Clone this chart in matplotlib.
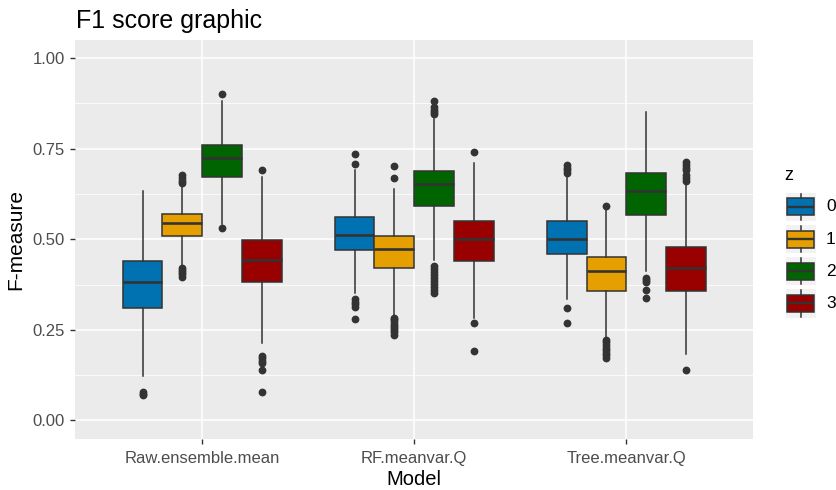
import matplotlib
matplotlib.use("Agg")
import matplotlib.pyplot as plt
from matplotlib.patches import Rectangle

plt.rcParams['font.family'] = ['Liberation Sans', 'DejaVu Sans']

models = ["Raw.ensemble.mean", "RF.meanvar.Q", "Tree.meanvar.Q"]
z_levels = ["0", "1", "2", "3"]
z_colors = ["#0072B2", "#E69F00", "#006400", "#990000"]

# box statistics, one row per model, one column per z level
q1 = [[0.311, 0.510, 0.671, 0.381],
      [0.471, 0.420, 0.593, 0.441],
      [0.459, 0.357, 0.568, 0.357]]
med = [[0.383, 0.544, 0.723, 0.442],
       [0.513, 0.473, 0.653, 0.501],
       [0.501, 0.411, 0.633, 0.422]]
q3 = [[0.440, 0.570, 0.760, 0.499],
      [0.561, 0.510, 0.689, 0.550],
      [0.550, 0.452, 0.682, 0.479]]
whislo = [[0.123, 0.427, 0.542, 0.214],
          [0.353, 0.288, 0.443, 0.283],
          [0.334, 0.228, 0.411, 0.182]]
whishi = [[0.632, 0.653, 0.882, 0.672],
          [0.690, 0.639, 0.831, 0.711],
          [0.672, 0.584, 0.852, 0.651]]
fliers = [
    [[0.070, 0.074, 0.078],
     [0.656, 0.662, 0.668, 0.676, 0.397, 0.403, 0.410, 0.416, 0.422],
     [0.901, 0.530],
     [0.690, 0.159, 0.165, 0.171, 0.177, 0.140, 0.078]],
    [[0.709, 0.734, 0.314, 0.320, 0.327, 0.336, 0.281],
     [0.670, 0.701, 0.237, 0.243, 0.249, 0.255, 0.261, 0.267, 0.273, 0.279, 0.283],
     [0.845, 0.852, 0.858, 0.865, 0.882, 0.353, 0.360, 0.368, 0.376, 0.385,
      0.393, 0.400, 0.410, 0.418, 0.427],
     [0.740, 0.270, 0.191]],
    [[0.683, 0.690, 0.698, 0.706, 0.311, 0.269],
     [0.593, 0.173, 0.180, 0.187, 0.194, 0.201, 0.208, 0.215, 0.223],
     [0.381, 0.388, 0.394, 0.360, 0.339],
     [0.662, 0.670, 0.676, 0.690, 0.697, 0.705, 0.713, 0.140]],
]

edge = "#333333"
bw = 0.75 / len(z_levels)
W, H = 837, 490

fig = plt.figure(figsize=(W / 100, H / 100), dpi=100)
ax = fig.add_axes([75/W, 1 - 438.5/H, (753.5 - 75)/W, (438.5 - 40)/H])
ax.set_facecolor("#EBEBEB")

for j, z in enumerate(z_levels):
    stats = []
    pos = []
    for i in range(len(models)):
        stats.append(dict(med=med[i][j], q1=q1[i][j], q3=q3[i][j],
                          whislo=whislo[i][j], whishi=whishi[i][j],
                          fliers=fliers[i][j]))
        pos.append(i + 1 + (j - 1.5) * bw)
    ax.bxp(stats, positions=pos, widths=bw, patch_artist=True, showcaps=False,
           boxprops=dict(facecolor=z_colors[j], edgecolor=edge, linewidth=1.1),
           medianprops=dict(color=edge, linewidth=1.9, solid_capstyle='butt'),
           whiskerprops=dict(color=edge, linewidth=1.1),
           flierprops=dict(marker='o', markerfacecolor=edge, markeredgecolor=edge,
                           markersize=4.6, linestyle='none'),
           zorder=3)

ax.set_xlim(0.4, 3.6)
ax.set_ylim(-0.05, 1.05)
ax.set_xticks([1, 2, 3])
ax.set_xticklabels(models)
ax.set_yticks([0, 0.25, 0.5, 0.75, 1.0])
ax.set_yticklabels(["0.00", "0.25", "0.50", "0.75", "1.00"])
ax.set_yticks([0.125, 0.375, 0.625, 0.875], minor=True)
ax.grid(which='major', color='white', linewidth=1.1, zorder=0)
ax.grid(which='minor', axis='y', color='white', linewidth=0.55, zorder=0)
ax.set_axisbelow(True)
for s in ax.spines.values():
    s.set_visible(False)
ax.tick_params(axis='both', which='major', length=3.5, width=1, color=edge,
               labelcolor='#4D4D4D', labelsize=12)
ax.tick_params(axis='x', pad=5.5)
ax.tick_params(axis='y', pad=4)
ax.tick_params(axis='y', which='minor', length=0)

ax.set_xlabel("Model", fontsize=14.5, labelpad=3)
ax.set_ylabel("F-measure", fontsize=15, labelpad=5)
fig.text(76/W, 1 - 28/H, "F1 score graphic", fontsize=18, va='baseline')

# legend drawn on an overlay in pixel units
lax = fig.add_axes([0, 0, 1, 1], facecolor='none')
lax.set_xlim(0, W)
lax.set_ylim(H, 0)
lax.axis('off')
lax.text(784, 175, "z", fontsize=13, va='center', ha='left')
kx, kw, kh, step, ktop = 786, 30, 28.5, 32.1, 192.7
for k, (lab, col) in enumerate(zip(z_levels, z_colors)):
    y0 = ktop + k * step
    cx = kx + kw / 2
    lax.add_patch(Rectangle((kx, y0), kw, kh, facecolor="#F2F2F2", edgecolor='none'))
    lax.add_patch(Rectangle((kx + 1.5, y0 + kh * 0.2), kw - 3, kh * 0.6,
                            facecolor=col, edgecolor=edge, linewidth=1.1))
    lax.plot([kx + 1.5, kx + kw - 1.5], [y0 + kh / 2] * 2, color=edge, linewidth=1.7,
             solid_capstyle='butt')
    lax.plot([cx, cx], [y0 + 1, y0 + kh * 0.2], color=edge, linewidth=1.1)
    lax.plot([cx, cx], [y0 + kh * 0.8, y0 + kh - 1], color=edge, linewidth=1.1)
    lax.text(826, y0 + kh / 2, lab, fontsize=12.5, va='center', ha='left')

fig.savefig("out.png", dpi=100)
